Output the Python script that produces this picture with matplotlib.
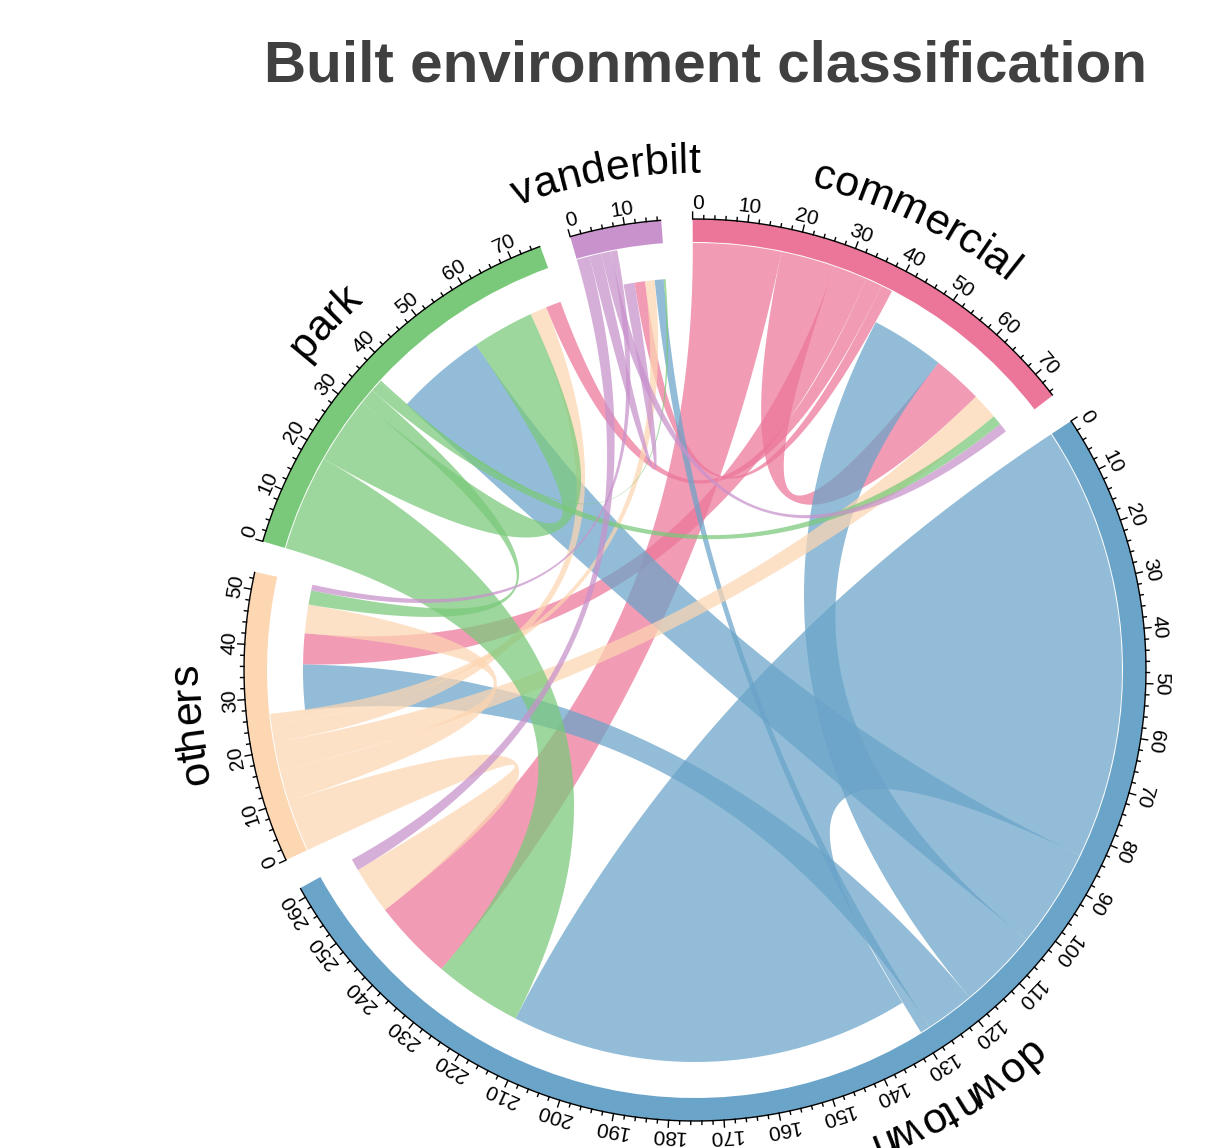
import numpy as np
import matplotlib
matplotlib.use("Agg")
import matplotlib.pyplot as plt
from matplotlib.patches import Polygon, Wedge
from matplotlib.textpath import TextToPath
from matplotlib.font_manager import FontProperties

# ---------------------------------------------------------------- data
sectors = ["commercial", "downtown", "others", "park", "vanderbilt"]
ring_colors = ["#EC769A", "#6AA4C9", "#FDD6B2", "#7AC97A", "#C892CC"]

# flows: one list per origin, entries follow the order of `sectors` (destination)
commercial_row = [10.5, 17.0, 6.5, 3.2, 2.2]
downtown_row = [15.5, 84.0, 9.5, 19.0, 1.9]
others_row = [5.5, 10.0, 6.0, 3.5, 2.0]
park_row = [2.1, 18.5, 3.0, 13.0, 0.4]
vanderbilt_row = [1.9, 2.5, 1.2, 0.0, 2.3]

title = "Built environment classification"

# ---------------------------------------------------------------- layout
W, H, DPI = 1219, 1148, 100
CX, CY = 695.0, 670.0
R_OUT, R_IN = 451.0, 428.0
R_ROW, R_COL = 427.0, 392.0
GAP = 4.0
START = 90.3
LINK_ALPHA = 0.73
FONT = "Liberation Sans"
TICK_FS = 15

mat = np.array([commercial_row, downtown_row, others_row, park_row, vanderbilt_row])
n = len(sectors)
row_sum = mat.sum(axis=1)
col_sum = mat.sum(axis=0)
totals = row_sum + col_sum
deg_per_unit = (360.0 - n * GAP) / totals.sum()

starts = []
a = START
for i in range(n):
    starts.append(a)
    a -= totals[i] * deg_per_unit + GAP


def ang(i, u):
    return starts[i] - u * deg_per_unit


def pt(theta, r):
    t = np.radians(theta)
    return np.column_stack([CX + r * np.cos(t), CY - r * np.sin(t)])


def arc(i, u0, u1, r, m=40):
    return pt(np.linspace(ang(i, u0), ang(i, u1), m), r)


def bezier(p0, p2, m=80):
    t = np.linspace(0, 1, m)[:, None]
    c = np.array([CX, CY])
    return (1 - t) ** 2 * p0 + 2 * (1 - t) * t * c + t ** 2 * p2


# positions of every link end inside its sector (largest first, clockwise)
out_pos, in_pos = {}, {}
for i in range(n):
    cum = 0.0
    for j in sorted(range(n), key=lambda j: -mat[i, j]):
        if mat[i, j] > 0:
            out_pos[(i, j)] = (cum, cum + mat[i, j])
            cum += mat[i, j]
    cum = row_sum[i]
    for k in sorted(range(n), key=lambda k: -mat[k, i]):
        if mat[k, i] > 0:
            in_pos[(k, i)] = (cum, cum + mat[k, i])
            cum += mat[k, i]

fig = plt.figure(figsize=(W / DPI, H / DPI), dpi=DPI)
ax = fig.add_axes([0, 0, 1, 1])
ax.set_xlim(0, W)
ax.set_ylim(H, 0)
ax.set_aspect("equal")
ax.axis("off")

# ---------------------------------------------------------------- links
for i in range(n):
    for j in range(n):
        if mat[i, j] <= 0:
            continue
        s0, s1 = out_pos[(i, j)]
        t0, t1 = in_pos[(i, j)]
        src = arc(i, s0, s1, R_ROW)
        dst = arc(j, t0, t1, R_COL)
        poly = np.vstack([src, bezier(src[-1], dst[0]), dst, bezier(dst[-1], src[0])])
        ax.add_patch(Polygon(poly, closed=True, facecolor=ring_colors[i],
                             edgecolor="none", alpha=LINK_ALPHA, zorder=2))

# ---------------------------------------------------------------- outer track
for i in range(n):
    a0, a1 = ang(i, totals[i]), ang(i, 0)
    ax.add_patch(Wedge((CX, CY), R_OUT, -a1, -a0, width=R_OUT - R_IN,
                       facecolor=ring_colors[i], edgecolor="none", zorder=3))

# ---------------------------------------------------------------- axis + ticks
ttp = TextToPath()
tick_fp = FontProperties(family=FONT, size=TICK_FS)
R_LAB = R_OUT + 10

for i in range(n):
    line = arc(i, 0, totals[i], R_OUT, 200)
    ax.plot(line[:, 0], line[:, 1], color="black", lw=1.0, zorder=4,
            solid_capstyle="butt")
    for u in np.arange(0, totals[i] + 1e-9, 2):
        major = int(round(u)) % 10 == 0
        L = 7 if major else 3.5
        seg = np.vstack([pt(ang(i, u), R_OUT), pt(ang(i, u), R_OUT + L)])
        ax.plot(seg[:, 0], seg[:, 1], color="black", lw=1.0, zorder=4)
        if major:
            lab = f"{int(round(u))}"
            w_px = ttp.get_text_width_height_descent(lab, tick_fp, ismath=False)[0] * DPI / 72
            half = np.degrees(w_px / 2 / R_LAB) / deg_per_unit
            uc = min(max(u, half), totals[i] - half)
            th = ang(i, uc)
            p = pt(th, R_LAB)[0]
            ax.text(p[0], p[1], lab, rotation=th - 90,
                    rotation_mode="anchor", ha="center", va="baseline",
                    fontproperties=tick_fp, color="black", zorder=5)

# ---------------------------------------------------------------- sector names
fp = FontProperties(family=FONT, size=31)
R_NAME = 497.0


def arc_text(s, theta_mid, r):
    widths = [ttp.get_text_width_height_descent(ch, fp, ismath=False)[0] * DPI / 72
              for ch in s]
    total = sum(widths)
    th0 = theta_mid + np.degrees(total / 2 / r)
    cum = 0.0
    for ch, w in zip(s, widths):
        th = th0 - np.degrees((cum + w / 2) / r)
        p = pt(th, r)[0]
        ax.text(p[0], p[1], ch, rotation=th - 90, rotation_mode="anchor",
                ha="center", va="baseline", fontproperties=fp, color="black",
                zorder=5)
        cum += w


for i in range(n):
    arc_text(sectors[i], ang(i, totals[i] / 2), R_NAME)

ax.text(706, 66, title, ha="center", va="center", fontsize=42,
        fontweight="bold", family=FONT, color="#404040")

fig.savefig("out.png", dpi=DPI)
